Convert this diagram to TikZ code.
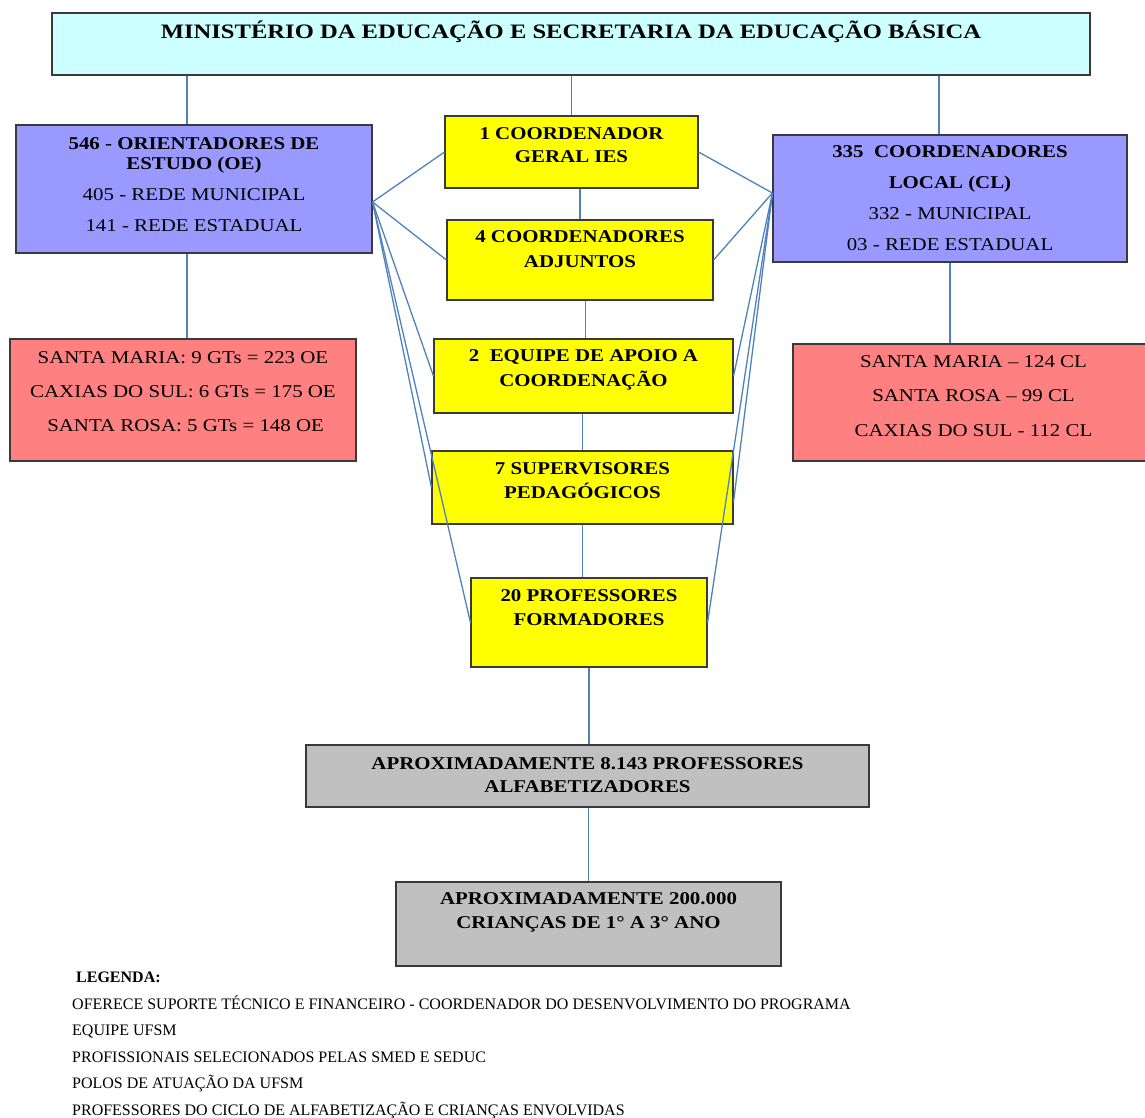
\documentclass[tikz,border=0pt]{standalone}
\usepackage{fontspec}
\setmainfont{Liberation Serif}
\newfontfamily\boxfont[FakeStretch=1.16]{Liberation Serif}
\newfontfamily\titlefont[FakeStretch=1.2]{Liberation Serif}
\definecolor{ceu}{HTML}{CCFFFF}
\definecolor{lilas}{HTML}{9999FF}
\definecolor{amarelo}{HTML}{FFFF00}
\definecolor{salmao}{HTML}{FF8080}
\definecolor{cinza}{HTML}{C0C0C0}
\definecolor{azul}{HTML}{4F81BD}
\definecolor{borda}{HTML}{3A3A3A}
\tikzset{
  caixa/.style={draw=borda, line width=1.1pt, inner sep=0pt},
  liga/.style={draw=azul, line width=1.3pt},
  txtb/.style={inner sep=0pt, anchor=north, align=center, font=\boxfont\bfseries\fontsize{18}{#1}\selectfont},
  txtr/.style={inner sep=0pt, anchor=north, align=center, font=\boxfont\fontsize{18}{#1}\selectfont},
}
\begin{document}
\begin{tikzpicture}[x=1pt,y=-1pt]
		\useasboundingbox (0,0) rectangle (1145,1117);
		
		\node[caixa, fill=ceu, minimum width=1038, minimum height=62] (mec) at (571,44) {};
		\node[caixa, fill=lilas, minimum width=356, minimum height=128] (oe) at (194,189) {};
		\node[caixa, fill=lilas, minimum width=354, minimum height=127] (cl) at (950,198.5) {};
		\node[caixa, fill=amarelo, minimum width=253, minimum height=72] (cg) at (571.5,152) {};
		\node[caixa, fill=amarelo, minimum width=266, minimum height=80] (ca) at (580,260) {};
		\node[caixa, fill=amarelo, minimum width=299, minimum height=74] (eq) at (583.5,376) {};
		\node[caixa, fill=amarelo, minimum width=301, minimum height=73] (sp) at (582.5,487.5) {};
		\node[caixa, fill=amarelo, minimum width=236, minimum height=89] (pf) at (589,622.5) {};
		\node[caixa, fill=cinza, minimum width=563, minimum height=62] (pa) at (587.5,776) {};
		\node[caixa, fill=cinza, minimum width=385, minimum height=84] (cr) at (588.5,924) {};
		\node[caixa, fill=salmao, minimum width=346, minimum height=122] (oegt) at (183,400) {};
		\node[caixa, fill=salmao, minimum width=357, minimum height=117] (clgt) at (971.5,402.5) {};
		
		\draw[liga] (mec.south -| cg.north) -- (cg.north);
		\draw[liga] ([xshift=-7pt]oe.north |- mec.south) -- ([xshift=-7pt]oe.north);
		\draw[liga] ([xshift=-11pt]cl.north |- mec.south) -- ([xshift=-11pt]cl.north);
		\draw[liga] ([xshift=-7pt]oe.south) -- ([xshift=-7pt]oe.south |- oegt.north);
		\draw[liga] (cl.south) -- (cl.south |- clgt.north);
		\draw[liga] (ca.north |- cg.south) -- (ca.north);
		\draw[liga] ([xshift=2pt]ca.south -| eq.north) -- ([xshift=2pt]eq.north);
		\draw[liga] (eq.south -| sp.north) -- (sp.north);
		\draw[liga] (sp.south) -- (sp.south |- pf.north);
		\draw[liga] (pf.south) -- (pf.south |- pa.north);
		\draw[liga] (pa.south -| cr.north) -- (cr.north);
		
		\foreach \alvo in {cg,ca,eq,sp,pf}
			\draw[liga] ([yshift=-13pt]oe.east) -- (\alvo.west);
		\foreach \alvo in {cg,ca,eq,pf}
			\draw[liga] ([yshift=5.5pt]cl.west) -- (\alvo.east);
		\draw[liga] ([yshift=5.5pt]cl.west) -- ([yshift=-14pt]sp.east);
		
		\node[inner sep=0pt, anchor=base, font=\titlefont\bfseries\fontsize{20.5}{24}\selectfont] (mect) at (571,38.5) {MINISTÉRIO DA EDUCAÇÃO E SECRETARIA DA EDUCAÇÃO BÁSICA};
		\node[txtr=20] (oet) at (194,137) {\textbf{546 - ORIENTADORES DE}\\\textbf{ESTUDO (OE)}\\[11pt]405 - REDE MUNICIPAL\\[11pt]141 - REDE ESTADUAL};
		\node[txtr=31] (clt) at (950,145) {\textbf{335\ \ COORDENADORES}\\\textbf{LOCAL (CL)}\\332 - MUNICIPAL\\03 - REDE ESTADUAL};
		\node[txtb=23] (cgt) at (571.5,127) {1 COORDENADOR\\GERAL IES};
		\node[txtb=25] (cat) at (580,230) {4 COORDENADORES\\ADJUNTOS};
		\node[txtb=25] (eqt) at (583.5,349) {2\ \ EQUIPE DE APOIO A\\COORDENAÇÃO};
		\node[txtb=24] (spt) at (582.5,462) {7 SUPERVISORES\\PEDAGÓGICOS};
		\node[txtb=24] (pft) at (589,589) {20 PROFESSORES\\FORMADORES};
		\node[txtb=23] (pat) at (587.5,757) {APROXIMADAMENTE 8.143 PROFESSORES\\ALFABETIZADORES};
		\node[txtb=24] (crt) at (588.5,892) {APROXIMADAMENTE 200.000\\CRIANÇAS DE 1° A 3° ANO};
		\node[txtr=34] (oegtt) at (183,351) {SANTA MARIA: 9 GTs = 223 OE\\CAXIAS DO SUL: 6 GTs = 175 OE\\\ SANTA ROSA: 5 GTs = 148 OE};
		\node[txtr=34.5] (clgtt) at (973.5,355) {SANTA MARIA – 124 CL\\SANTA ROSA – 99 CL\\CAXIAS DO SUL - 112 CL};
		
		\node[inner sep=0pt, anchor=north west, align=left, font=\fontsize{16}{26.5}\selectfont] (leg) at (72,971.7) {\hspace{4pt}\textbf{LEGENDA:}\\OFERECE SUPORTE TÉCNICO E FINANCEIRO - COORDENADOR DO DESENVOLVIMENTO DO PROGRAMA\\EQUIPE UFSM\\PROFISSIONAIS SELECIONADOS PELAS SMED E SEDUC\\POLOS DE ATUAÇÃO DA UFSM\\PROFESSORES DO CICLO DE ALFABETIZAÇÃO E CRIANÇAS ENVOLVIDAS};
\end{tikzpicture}
\end{document}
